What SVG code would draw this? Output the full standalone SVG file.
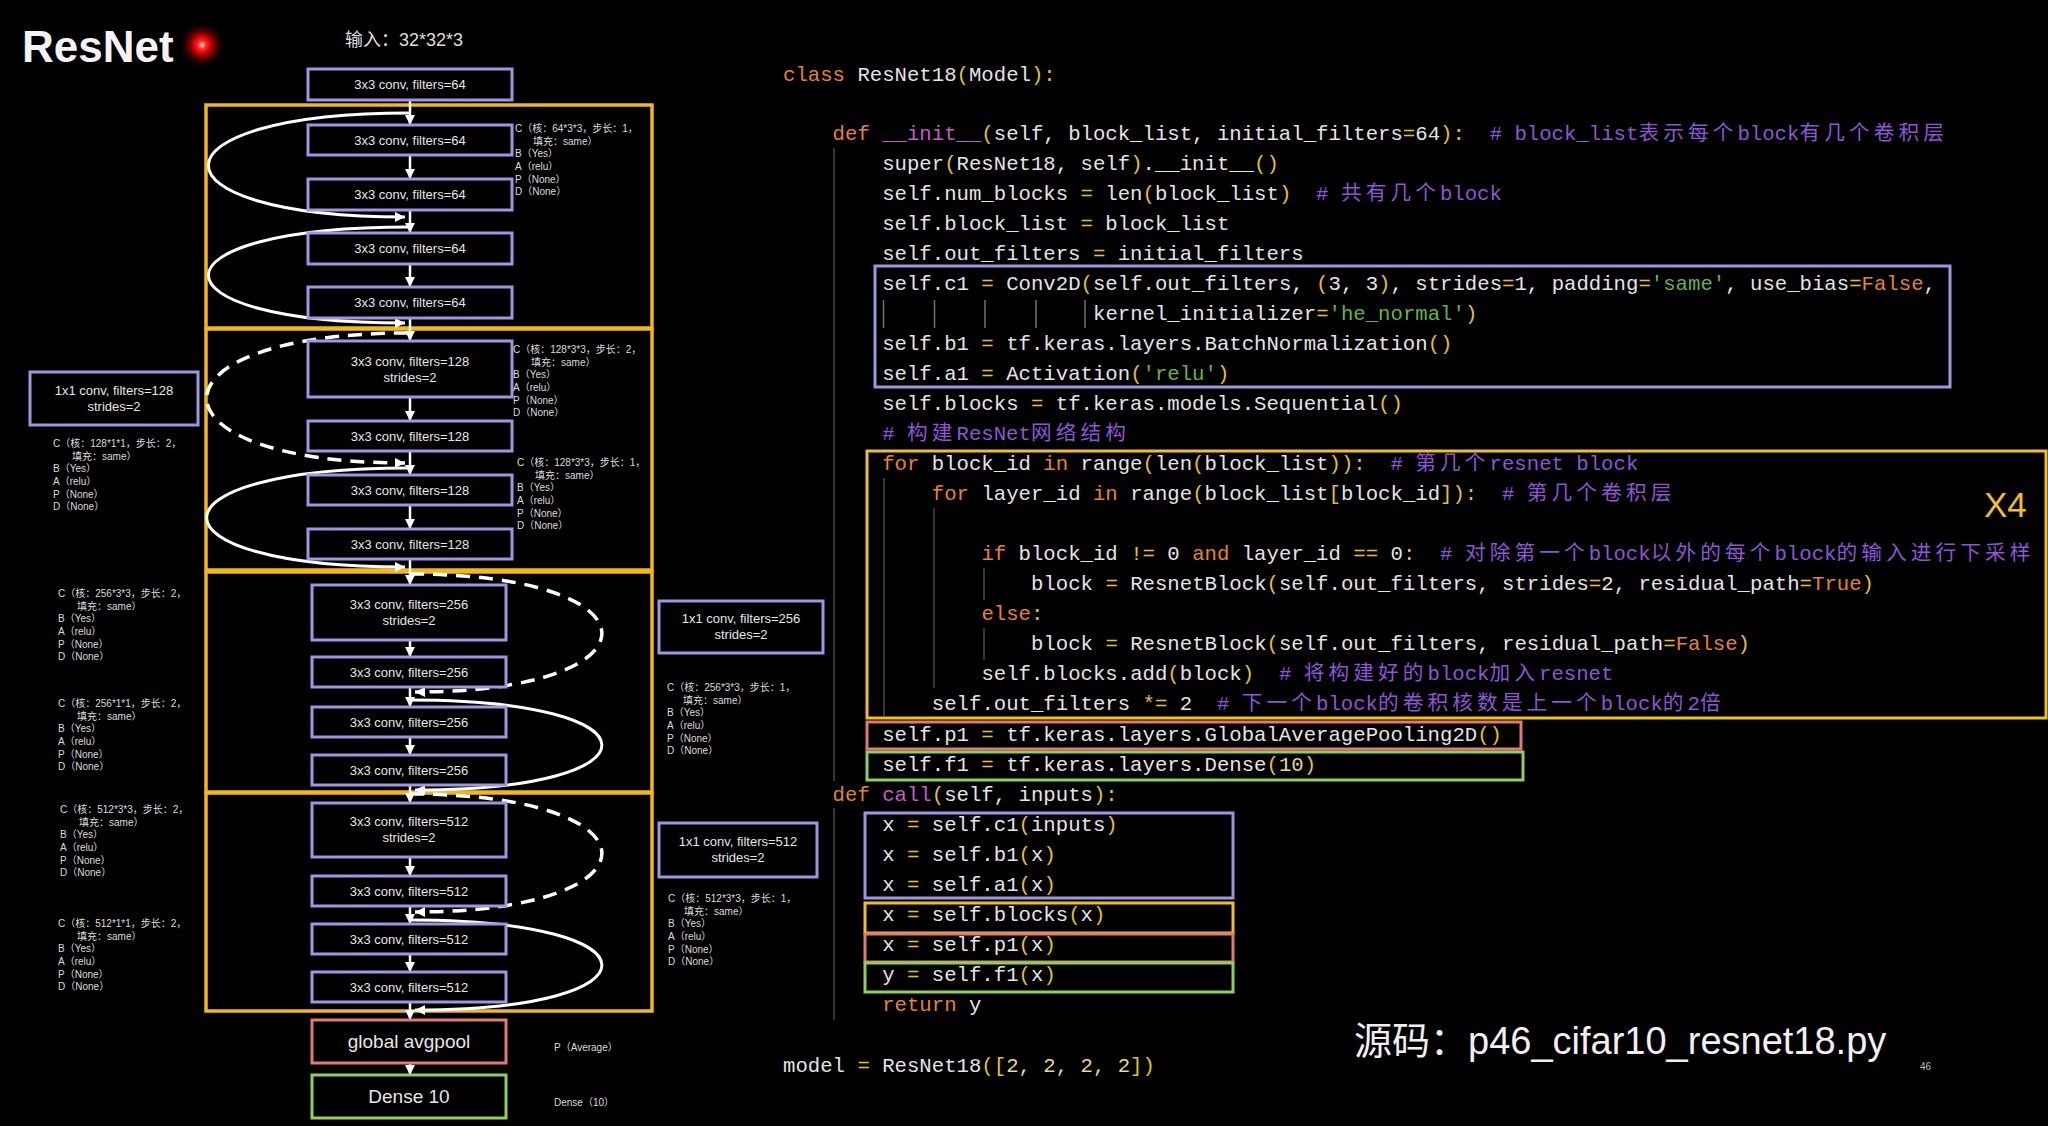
<svg xmlns="http://www.w3.org/2000/svg" width="2048" height="1126" viewBox="0 0 2048 1126">
<defs>
<style>
.bx{fill:#000;stroke:#a095e0;stroke-width:3}
.yb{fill:none;stroke:#f2b71c;stroke-width:3.5}
.lt{font-family:'Liberation Sans',Arial,sans-serif;font-size:13px;fill:#e6e6e6;text-anchor:middle}
.an{font-family:'Liberation Sans','Noto Sans CJK SC',sans-serif;font-size:10px;fill:#dcdcdc}
.ar{stroke:#fff;stroke-width:2.5;fill:none;marker-end:url(#ah)}
.sk{stroke:#fff;stroke-width:3;fill:none;marker-end:url(#ah)}
.dsh{stroke-dasharray:14 9;stroke-width:3.5}
.code{font-family:'Liberation Mono','Noto Sans CJK SC',monospace;font-size:20.67px;fill:#e4e4e4;white-space:pre}
.k{fill:#e5852b}.f{fill:#c25cc9}.c{fill:#8e55d4}.s{fill:#64b53c}.p{fill:#e5c12a}.n{fill:#e8d98a}
.cj{letter-spacing:4.1px}
.g{stroke:#484848;stroke-width:1.5;fill:none}
.cb{fill:none;stroke-width:3}
</style>
<marker id="ah" viewBox="0 0 10 10" refX="10" refY="5" markerWidth="10" markerHeight="10" markerUnits="userSpaceOnUse" orient="auto"><path d="M0,0L10,5L0,10z" fill="#fff"/></marker>
<radialGradient id="dot"><stop offset="0" stop-color="#ffe0e0"/><stop offset="0.18" stop-color="#ff2a2a"/><stop offset="0.4" stop-color="#d00000"/><stop offset="0.6" stop-color="#a00000" stop-opacity="0.6"/><stop offset="1" stop-color="#600000" stop-opacity="0"/></radialGradient>
</defs>
<rect width="2048" height="1126" fill="#000"/>

<g id="title">
<text x="22" y="62" font-family="'Liberation Sans',Arial,sans-serif" font-size="44" font-weight="bold" fill="#f4f4f4">ResNet</text>
<circle cx="202" cy="45" r="22" fill="url(#dot)"/>
<text x="345" y="46" font-family="'Liberation Sans','Noto Sans CJK SC',sans-serif" font-size="18" fill="#dedede">输入：32*32*3</text>
</g>

<g id="blocks">
<rect id="block1" class="yb" x="206" y="105" width="446" height="223"/>
<rect id="block2" class="yb" x="206" y="329" width="446" height="241"/>
<rect id="block3" class="yb" x="206" y="572" width="446" height="220"/>
<rect id="block4" class="yb" x="206" y="793" width="446" height="218"/>
</g>

<g id="connectors">
<path class="ar" d="M410 100V125"/>
<path class="ar" d="M410 155V179"/>
<path class="ar" d="M410 210V233"/>
<path class="ar" d="M410 264V287"/>
<path class="ar" d="M410 318V341"/>
<path class="ar" d="M410 397V421"/>
<path class="ar" d="M410 451V475"/>
<path class="ar" d="M410 505V529"/>
<path class="ar" d="M410 559V585"/>
<path class="ar" d="M410 640V657"/>
<path class="ar" d="M410 687V707"/>
<path class="ar" d="M410 737V755"/>
<path class="ar" d="M410 785V803"/>
<path class="ar" d="M410 857V876"/>
<path class="ar" d="M410 906V924"/>
<path class="ar" d="M410 954V972"/>
<path class="ar" d="M410 1002V1020"/>
<path class="ar" d="M410 1063V1075"/>
<path class="sk" d="M410 113C142 113 142 217 405 217"/>
<path class="sk" d="M410 227C142 227 142 323 405 323"/>
<path class="sk dsh" d="M408 333C140 333 140 463 405 463"/>
<path class="sk" d="M408 468C140 468 140 567 405 567"/>
<path class="sk dsh" d="M410 574C665 574 665 692 415 692"/>
<path class="sk" d="M410 700C665 700 665 790 415 790"/>
<path class="sk dsh" d="M410 794C665 794 665 912 415 912"/>
<path class="sk" d="M410 920C665 920 665 1010 415 1010"/>
</g>

<g id="n0"><rect class="bx" x="308" y="69" width="204" height="31"/><text class="lt" x="410" y="89">3x3 conv, filters=64</text></g>
<g id="n1"><rect class="bx" x="308" y="125" width="204" height="30"/><text class="lt" x="410" y="144.5">3x3 conv, filters=64</text></g>
<g id="n2"><rect class="bx" x="308" y="179" width="204" height="31"/><text class="lt" x="410" y="199">3x3 conv, filters=64</text></g>
<g id="n3"><rect class="bx" x="308" y="233" width="204" height="31"/><text class="lt" x="410" y="253">3x3 conv, filters=64</text></g>
<g id="n4"><rect class="bx" x="308" y="287" width="204" height="31"/><text class="lt" x="410" y="307">3x3 conv, filters=64</text></g>
<g id="n5"><rect class="bx" x="308" y="341" width="204" height="56"/><text class="lt" x="410" y="366">3x3 conv, filters=128</text><text class="lt" x="410" y="382">strides=2</text></g>
<g id="n6"><rect class="bx" x="308" y="421" width="204" height="30"/><text class="lt" x="410" y="440.5">3x3 conv, filters=128</text></g>
<g id="n7"><rect class="bx" x="308" y="475" width="204" height="30"/><text class="lt" x="410" y="494.5">3x3 conv, filters=128</text></g>
<g id="n8"><rect class="bx" x="308" y="529" width="204" height="30"/><text class="lt" x="410" y="548.5">3x3 conv, filters=128</text></g>
<g id="n9"><rect class="bx" x="312" y="585" width="194" height="55"/><text class="lt" x="409" y="609">3x3 conv, filters=256</text><text class="lt" x="409" y="625">strides=2</text></g>
<g id="n10"><rect class="bx" x="312" y="657" width="194" height="30"/><text class="lt" x="409" y="676.5">3x3 conv, filters=256</text></g>
<g id="n11"><rect class="bx" x="312" y="707" width="194" height="30"/><text class="lt" x="409" y="726.5">3x3 conv, filters=256</text></g>
<g id="n12"><rect class="bx" x="312" y="755" width="194" height="30"/><text class="lt" x="409" y="774.5">3x3 conv, filters=256</text></g>
<g id="n13"><rect class="bx" x="312" y="803" width="194" height="54"/><text class="lt" x="409" y="826">3x3 conv, filters=512</text><text class="lt" x="409" y="842">strides=2</text></g>
<g id="n14"><rect class="bx" x="312" y="876" width="194" height="30"/><text class="lt" x="409" y="895.5">3x3 conv, filters=512</text></g>
<g id="n15"><rect class="bx" x="312" y="924" width="194" height="30"/><text class="lt" x="409" y="943.5">3x3 conv, filters=512</text></g>
<g id="n16"><rect class="bx" x="312" y="972" width="194" height="30"/><text class="lt" x="409" y="991.5">3x3 conv, filters=512</text></g>
<g id="pool"><rect class="bx" x="312" y="1020" width="194" height="43" style="stroke:#e07a7a"/><text class="lt" x="409" y="1048" style="font-size:19px">global avgpool</text></g>
<g id="dense"><rect class="bx" x="312" y="1075" width="194" height="43" style="stroke:#8ed05a"/><text class="lt" x="409" y="1103" style="font-size:19px">Dense 10</text></g>
<g id="sc128"><rect class="bx" x="30" y="372" width="168" height="53"/><text class="lt" x="114" y="395">1x1 conv, filters=128</text><text class="lt" x="114" y="411">strides=2</text></g>
<g id="sc256"><rect class="bx" x="659" y="601" width="164" height="52"/><text class="lt" x="741" y="623">1x1 conv, filters=256</text><text class="lt" x="741" y="639">strides=2</text></g>
<g id="sc512"><rect class="bx" x="659" y="823" width="158" height="54"/><text class="lt" x="738" y="846">1x1 conv, filters=512</text><text class="lt" x="738" y="862">strides=2</text></g>

<g id="annotations" class="an">
<text x="515" y="131.5">C（核：64*3*3，步长：1，</text><text x="533" y="144.5">填充：same）</text><text x="515" y="157">B（Yes）</text><text x="515" y="169.5">A（relu）</text><text x="515" y="182.5">P（None）</text><text x="515" y="195">D（None）</text>
<text x="513" y="352.5">C（核：128*3*3，步长：2，</text><text x="531" y="365.5">填充：same）</text><text x="513" y="378">B（Yes）</text><text x="513" y="390.5">A（relu）</text><text x="513" y="403.5">P（None）</text><text x="513" y="416">D（None）</text>
<text x="517" y="465.5">C（核：128*3*3，步长：1，</text><text x="535" y="478.5">填充：same）</text><text x="517" y="491">B（Yes）</text><text x="517" y="503.5">A（relu）</text><text x="517" y="516.5">P（None）</text><text x="517" y="529">D（None）</text>
<text x="53" y="446.5">C（核：128*1*1，步长：2，</text><text x="72" y="459.5">填充：same）</text><text x="53" y="472">B（Yes）</text><text x="53" y="484.5">A（relu）</text><text x="53" y="497.5">P（None）</text><text x="53" y="510">D（None）</text>
<text x="58" y="596.5">C（核：256*3*3，步长：2，</text><text x="77" y="609.5">填充：same）</text><text x="58" y="622">B（Yes）</text><text x="58" y="634.5">A（relu）</text><text x="58" y="647.5">P（None）</text><text x="58" y="660">D（None）</text>
<text x="58" y="706.5">C（核：256*1*1，步长：2，</text><text x="77" y="719.5">填充：same）</text><text x="58" y="732">B（Yes）</text><text x="58" y="744.5">A（relu）</text><text x="58" y="757.5">P（None）</text><text x="58" y="770">D（None）</text>
<text x="667" y="690.5">C（核：256*3*3，步长：1，</text><text x="683" y="703.5">填充：same）</text><text x="667" y="716">B（Yes）</text><text x="667" y="728.5">A（relu）</text><text x="667" y="741.5">P（None）</text><text x="667" y="754">D（None）</text>
<text x="60" y="812.5">C（核：512*3*3，步长：2，</text><text x="79" y="825.5">填充：same）</text><text x="60" y="838">B（Yes）</text><text x="60" y="850.5">A（relu）</text><text x="60" y="863.5">P（None）</text><text x="60" y="876">D（None）</text>
<text x="58" y="926.5">C（核：512*1*1，步长：2，</text><text x="77" y="939.5">填充：same）</text><text x="58" y="952">B（Yes）</text><text x="58" y="964.5">A（relu）</text><text x="58" y="977.5">P（None）</text><text x="58" y="990">D（None）</text>
<text x="668" y="901.5">C（核：512*3*3，步长：1，</text><text x="684" y="914.5">填充：same）</text><text x="668" y="927">B（Yes）</text><text x="668" y="939.5">A（relu）</text><text x="668" y="952.5">P（None）</text><text x="668" y="965">D（None）</text>
<text x="554" y="1050.5">P（Average）</text>
<text x="554" y="1105.5">Dense（10）</text>
</g>

<g id="guides" class="g">
<path d="M834 148V781"/>
<path d="M834 808V1020"/>
<path d="M884 478V716"/>
<path d="M934 508V688"/>
<path d="M984 568V600M984 628V660"/>
<path d="M883.5 300V328M934.5 300V328M985 300V328M1036 300V328M1085 300V328" style="stroke:#707070"/>
</g>

<g id="codeboxes">
<rect class="cb" x="875" y="266" width="1075" height="121" stroke="#a095e0"/>
<rect class="cb" x="867" y="451" width="1179" height="267" stroke="#f0c020"/>
<rect class="cb" x="867" y="722" width="654" height="27" stroke="#e07a7a"/>
<rect class="cb" x="867" y="752" width="656" height="28" stroke="#8ed05a"/>
<rect class="cb" x="865" y="813" width="368" height="85" stroke="#a095e0"/>
<rect class="cb" x="865" y="903" width="368" height="30" stroke="#f0c020"/>
<rect class="cb" x="865" y="934" width="368" height="28" stroke="#e07a7a"/>
<rect class="cb" x="865" y="963" width="368" height="29" stroke="#8ed05a"/>
<text x="1984" y="517" font-family="'Liberation Sans',Arial,sans-serif" font-size="35" fill="#f0c020">X4</text>
</g>

<g id="code" class="code">
<text xml:space="preserve" x="783" y="81"><tspan class="k">class</tspan> ResNet18<tspan class="p">(</tspan>Model<tspan class="p">):</tspan></text>
<text xml:space="preserve" x="832.6" y="140"><tspan class="k">def</tspan> <tspan class="f">__init__</tspan><tspan class="p">(</tspan>self, block_list, initial_filters<tspan class="p">=</tspan>64<tspan class="p">):</tspan>  <tspan class="c"># block_list<tspan class="cj">表示每个</tspan>block<tspan class="cj">有几个卷积层</tspan></tspan></text>
<text xml:space="preserve" x="882.2" y="170">super<tspan class="p">(</tspan>ResNet18, self<tspan class="p">)</tspan>.__init__<tspan class="p">()</tspan></text>
<text xml:space="preserve" x="882.2" y="200">self.num_blocks <tspan class="p">=</tspan> len<tspan class="p">(</tspan>block_list<tspan class="p">)</tspan>  <tspan class="c"># <tspan class="cj">共有几个</tspan>block</tspan></text>
<text xml:space="preserve" x="882.2" y="230">self.block_list <tspan class="p">=</tspan> block_list</text>
<text xml:space="preserve" x="882.2" y="260">self.out_filters <tspan class="p">=</tspan> initial_filters</text>
<text xml:space="preserve" x="882.2" y="290">self.c1 <tspan class="p">=</tspan> Conv2D<tspan class="p">(</tspan>self.out_filters, <tspan class="p">(</tspan>3, 3<tspan class="p">)</tspan>, strides<tspan class="p">=</tspan>1, padding<tspan class="p">=</tspan><tspan class="s">'same'</tspan>, use_bias<tspan class="p">=</tspan><tspan class="k">False</tspan>,</text>
<text xml:space="preserve" x="1093" y="320">kernel_initializer<tspan class="p">=</tspan><tspan class="s">'he_normal'</tspan><tspan class="p">)</tspan></text>
<text xml:space="preserve" x="882.2" y="350">self.b1 <tspan class="p">=</tspan> tf.keras.layers.BatchNormalization<tspan class="p">()</tspan></text>
<text xml:space="preserve" x="882.2" y="380">self.a1 <tspan class="p">=</tspan> Activation<tspan class="p">(</tspan><tspan class="s">'relu'</tspan><tspan class="p">)</tspan></text>
<text xml:space="preserve" x="882.2" y="410">self.blocks <tspan class="p">=</tspan> tf.keras.models.Sequential<tspan class="p">()</tspan></text>
<text xml:space="preserve" x="882.2" y="440"><tspan class="c"># <tspan class="cj">构建</tspan>ResNet<tspan class="cj">网络结构</tspan></tspan></text>
<text xml:space="preserve" x="882.2" y="470"><tspan class="k">for</tspan> block_id <tspan class="k">in</tspan> range<tspan class="p">(</tspan>len<tspan class="p">(</tspan>block_list<tspan class="p">)):</tspan>  <tspan class="c"># <tspan class="cj">第几个</tspan>resnet block</tspan></text>
<text xml:space="preserve" x="931.8" y="500"><tspan class="k">for</tspan> layer_id <tspan class="k">in</tspan> range<tspan class="p">(</tspan>block_list<tspan class="p">[</tspan>block_id<tspan class="p">]):</tspan>  <tspan class="c"># <tspan class="cj">第几个卷积层</tspan></tspan></text>
<text xml:space="preserve" x="981.4" y="560"><tspan class="k">if</tspan> block_id <tspan class="p">!=</tspan> 0 <tspan class="k">and</tspan> layer_id <tspan class="p">==</tspan> 0<tspan class="p">:</tspan>  <tspan class="c"># <tspan class="cj">对除第一个</tspan>block<tspan class="cj">以外的每个</tspan>block<tspan class="cj">的输入进行下采样</tspan></tspan></text>
<text xml:space="preserve" x="1031" y="590">block <tspan class="p">=</tspan> ResnetBlock<tspan class="p">(</tspan>self.out_filters, strides<tspan class="p">=</tspan>2, residual_path<tspan class="p">=</tspan><tspan class="k">True</tspan><tspan class="p">)</tspan></text>
<text xml:space="preserve" x="981.4" y="620"><tspan class="k">else</tspan><tspan class="p">:</tspan></text>
<text xml:space="preserve" x="1031" y="650">block <tspan class="p">=</tspan> ResnetBlock<tspan class="p">(</tspan>self.out_filters, residual_path<tspan class="p">=</tspan><tspan class="k">False</tspan><tspan class="p">)</tspan></text>
<text xml:space="preserve" x="981.4" y="680">self.blocks.add<tspan class="p">(</tspan>block<tspan class="p">)</tspan>  <tspan class="c"># <tspan class="cj">将构建好的</tspan>block<tspan class="cj">加入</tspan>resnet</tspan></text>
<text xml:space="preserve" x="931.8" y="710">self.out_filters <tspan class="p">*=</tspan> 2  <tspan class="c"># <tspan class="cj">下一个</tspan>block<tspan class="cj">的卷积核数是上一个</tspan>block<tspan class="cj">的</tspan>2<tspan class="cj">倍</tspan></tspan></text>
<text xml:space="preserve" x="882.2" y="741">self.p1 <tspan class="p">=</tspan> tf.keras.layers.GlobalAveragePooling2D<tspan class="p">()</tspan></text>
<text xml:space="preserve" x="882.2" y="771">self.f1 <tspan class="p">=</tspan> tf.keras.layers.Dense<tspan class="p">(</tspan><tspan class="n">10</tspan><tspan class="p">)</tspan></text>
<text xml:space="preserve" x="832.6" y="801"><tspan class="k">def</tspan> <tspan class="f">call</tspan><tspan class="p">(</tspan>self, inputs<tspan class="p">):</tspan></text>
<text xml:space="preserve" x="882.2" y="831">x <tspan class="p">=</tspan> self.c1<tspan class="p">(</tspan>inputs<tspan class="p">)</tspan></text>
<text xml:space="preserve" x="882.2" y="861">x <tspan class="p">=</tspan> self.b1<tspan class="p">(</tspan>x<tspan class="p">)</tspan></text>
<text xml:space="preserve" x="882.2" y="891">x <tspan class="p">=</tspan> self.a1<tspan class="p">(</tspan>x<tspan class="p">)</tspan></text>
<text xml:space="preserve" x="882.2" y="921">x <tspan class="p">=</tspan> self.blocks<tspan class="p">(</tspan>x<tspan class="p">)</tspan></text>
<text xml:space="preserve" x="882.2" y="951">x <tspan class="p">=</tspan> self.p1<tspan class="p">(</tspan>x<tspan class="p">)</tspan></text>
<text xml:space="preserve" x="882.2" y="981">y <tspan class="p">=</tspan> self.f1<tspan class="p">(</tspan>x<tspan class="p">)</tspan></text>
<text xml:space="preserve" x="882.2" y="1011"><tspan class="k">return</tspan> y</text>
<text xml:space="preserve" x="783" y="1072">model <tspan class="p">=</tspan> ResNet18<tspan class="p">([</tspan><tspan class="n">2, 2, 2, 2</tspan><tspan class="p">])</tspan></text>
</g>

<g id="footer">
<text x="1354" y="1054" font-family="'Liberation Sans','Noto Sans CJK SC',sans-serif" font-size="38" fill="#f0f0f0">源码：p46_cifar10_resnet18.py</text>
<text x="1920" y="1070" font-family="'Liberation Sans',sans-serif" font-size="10" fill="#bbb">46</text>
</g>
</svg>
